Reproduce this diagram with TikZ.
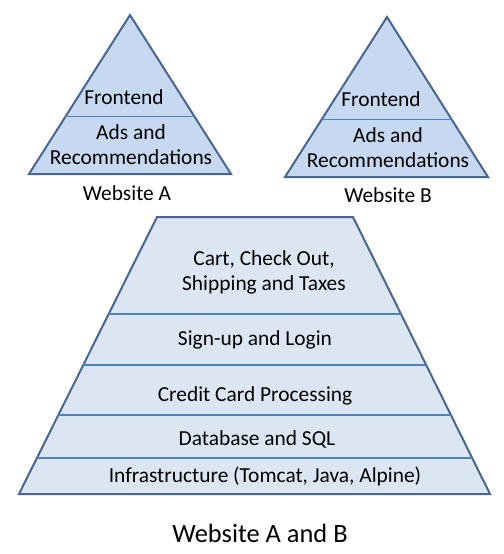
\documentclass[tikz,border=0pt]{standalone}
\usepackage{fontspec}
\setmainfont{Carlito}
\usetikzlibrary{calc}
\definecolor{edgeblue}{RGB}{72,102,148}
\definecolor{lineblue}{RGB}{79,129,189}
\definecolor{topfill}{RGB}{198,217,240}
\definecolor{basefill}{RGB}{220,230,242}
\begin{document}
\begin{tikzpicture}[x=0.5pt, y=-0.5pt,
outline/.style={draw=edgeblue, line width=1pt, line join=miter},
divider/.style={draw=lineblue, line width=0.7pt},
layertext/.style={inner sep=0pt, align=center, font=\fontsize{10.7}{12.5}\selectfont, text=black},
titletext/.style={inner sep=0pt, font=\fontsize{13.2}{15}\selectfont, text=black},
]
\useasboundingbox (0,0) rectangle (504,554);

%Corners
\coordinate (apexA) at (130,15);
\coordinate (leftA) at (29,174);
\coordinate (rightA) at (231,174);
\coordinate (apexB) at (387,17);
\coordinate (leftB) at (285,177);
\coordinate (rightB) at (488,177);
\coordinate (topleft) at (157,217);
\coordinate (topright) at (353,217);
\coordinate (bottomleft) at (19,494);
\coordinate (bottomright) at (490,494);

%Shapes
\draw[outline, fill=topfill] (apexA) -- (leftA) -- (rightA) -- cycle;
\draw[outline, fill=topfill] (apexB) -- (leftB) -- (rightB) -- cycle;
\draw[outline, fill=basefill] (topleft) -- (bottomleft) -- (bottomright) -- (topright) -- cycle;

%Lines
\draw[divider] ($(apexA)!0.64!(leftA)$) -- ($(apexA)!0.64!(rightA)$);
\draw[divider] ($(apexB)!0.64!(leftB)$) -- ($(apexB)!0.64!(rightB)$);
\draw[divider] ($(topleft)!0.350!(bottomleft)$) -- ($(topright)!0.350!(bottomright)$);
\draw[divider] ($(topleft)!0.534!(bottomleft)$) -- ($(topright)!0.534!(bottomright)$);
\draw[divider] ($(topleft)!0.715!(bottomleft)$) -- ($(topright)!0.715!(bottomright)$);
\draw[divider] ($(topleft)!0.870!(bottomleft)$) -- ($(topright)!0.870!(bottomright)$);

%Nodes
\node[layertext] (frontA)   at (124,97)    {Frontend};
\node[layertext] (adsA)     at (131,145)   {Ads and\\Recommendations};
\node[layertext] (nameA)    at (127,193)   {Website A};
\node[layertext] (frontB)   at (381,99)    {Frontend};
\node[layertext] (adsB)     at (388,148)   {Ads and\\Recommendations};
\node[layertext] (nameB)    at (388,195)   {Website B};

\node[layertext] (cart)     at (264,272)   {Cart, Check Out,\\Shipping and Taxes};
\node[layertext] (signup)   at (255,340)   {Sign-up and Login};
\node[layertext] (credit)   at (255,396)   {Credit Card Processing};
\node[layertext] (database) at (257,439)   {Database and SQL};
\node[layertext] (infra)    at (265,476)   {Infrastructure (Tomcat, Java, Alpine)};

\node[titletext] (both)     at (260,533)   {Website A and B};

\end{tikzpicture}
\end{document}
